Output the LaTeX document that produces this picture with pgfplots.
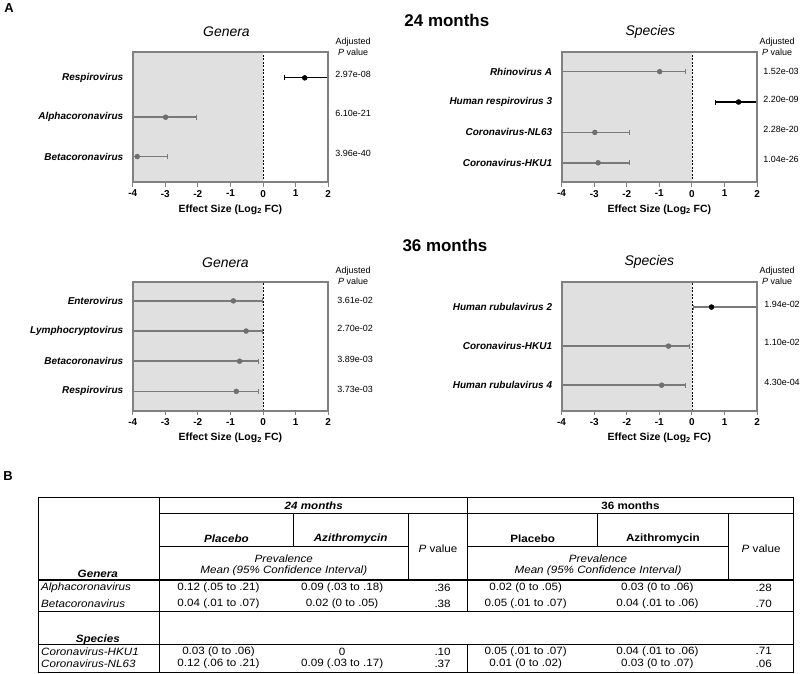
\documentclass[border=0pt]{standalone}
\usepackage{pgfplots}
\pgfplotsset{compat=1.18}
\usepackage{fontspec}
\setmainfont{Liberation Sans}
\definecolor{shade}{HTML}{E0E0E0}
\definecolor{framegray}{HTML}{808080}
\definecolor{ptgray}{HTML}{6E6E6E}
\definecolor{bargray}{HTML}{7A7A7A}
\newcommand{\fs}[1]{\fontsize{#1}{#1}\selectfont}

\pgfplotsset{
  forest/.style={
    scale only axis, width=196pt, height=131pt,
    xmin=-4, xmax=2,
    xtick={-4,-3,-2,-1,0,1,2},
    xticklabels={-4,-3,-2,-1,0,1,2},
    tick pos=left,
    tick align=outside, major tick length=4pt,
    xtick style={draw=framegray, line width=1pt},
    ytick style={draw=none},
    xticklabel style={font=\bfseries\fs{10}},
    yticklabel style={font=\bfseries\itshape\fs{10}, xshift=-2pt},
    axis line style={framegray, line width=1.4pt},
    xlabel={Effect Size (Log\textsubscript{2} FC)},
    xlabel style={font=\bfseries\fs{10.5}, at={(axis description cs:0.5,0)}, anchor=center, yshift=-27pt},
  },
  sig/.style={only marks, mark=*, mark size=2.5pt, color=black,
    error bars/.cd, x dir=both, x explicit, error mark=|,
    error bar style={line width=1.2pt, black},
    error mark options={line width=1pt, mark size=2.5pt, black}},
  ns/.style={only marks, mark=*, mark size=2.5pt, color=ptgray,
    mark options={draw=#1, fill=#1},
    error bars/.cd, x dir=both, x explicit, error mark=|,
    error bar style={line width=1.7pt, bargray},
    error mark options={line width=1.1pt, mark size=2.5pt, bargray}},
  ns/.default=ptgray,
  zeroline/.style={black, line width=0.8pt, dash pattern=on 2pt off 1.5pt},
  boxline/.style={framegray, line width=2.8pt},
}

\begin{document}
\begin{tikzpicture}
\begin{scope}[x=1pt,y=-1pt]
\path[use as bounding box] (0,0) rectangle (800,675);
\end{scope}

% ---------- 24 months, genera
\begin{axis}[forest, at={(131pt,-183pt)}, anchor=south west,
  ymin=0.34, ymax=3.66, ytick={1,2,3},
  yticklabels={Betacoronavirus,Alphacoronavirus,Respirovirus}]
\addplot[fill=shade, draw=none] coordinates {(-4,0.34) (0,0.34) (0,3.66) (-4,3.66)} -- cycle;
\addplot[zeroline] coordinates {(0,0.34) (0,3.66)};
\addplot[ns] coordinates {
  (-2.99,2) += (0.96,0) -= (1.5,0)
  (-3.86,1) += (0.92,0) -= (1.0,0)
};
\addplot[sig] coordinates {
  (1.28,3) += (1.5,0) -= (0.63,0)
};
\addplot[boxline] coordinates {(-4,0.34) (2,0.34) (2,3.66) (-4,3.66)} -- cycle;
\end{axis}

% ---------- 24 months, species
\begin{axis}[forest, at={(561pt,-183pt)}, anchor=south west,
  ymin=0.35, ymax=4.65, ytick={1,2,3,4},
  yticklabels={Coronavirus-HKU1,Coronavirus-NL63,Human respirovirus 3,Rhinovirus A}]
\addplot[fill=shade, draw=none] coordinates {(-4,0.35) (0,0.35) (0,4.65) (-4,4.65)} -- cycle;
\addplot[zeroline] coordinates {(0,0.35) (0,4.65)};
\addplot[ns] coordinates {
  (-0.99,4) += (0.79,0) -= (3.5,0)
  (-2.98,2) += (1.07,0) -= (1.5,0)
  (-2.88,1) += (0.95,0) -= (1.5,0)
};
\addplot[sig] coordinates {
  (1.43,3) += (1.0,0) -= (0.72,0)
};
\addplot[boxline] coordinates {(-4,0.35) (2,0.35) (2,4.65) (-4,4.65)} -- cycle;
\end{axis}

% ---------- 36 months, genera
\begin{axis}[forest, height=130pt, at={(131pt,-412pt)}, anchor=south west,
  ymin=0.35, ymax=4.65, ytick={1,2,3,4},
  yticklabels={Respirovirus,Betacoronavirus,Lymphocryptovirus,Enterovirus}]
\addplot[fill=shade, draw=none] coordinates {(-4,0.35) (0,0.35) (0,4.65) (-4,4.65)} -- cycle;
\addplot[zeroline] coordinates {(0,0.35) (0,4.65)};
\addplot[ns] coordinates {
  (-0.91,4) += (0.88,0) -= (3.5,0)
  (-0.52,3) += (0.51,0) -= (3.5,0)
  (-0.72,2) += (0.58,0) -= (3.5,0)
  (-0.82,1) += (0.68,0) -= (3.5,0)
};
\addplot[boxline] coordinates {(-4,0.35) (2,0.35) (2,4.65) (-4,4.65)} -- cycle;
\end{axis}

% ---------- 36 months, species
\begin{axis}[forest, height=130pt, at={(561pt,-412pt)}, anchor=south west,
  ymin=0.34, ymax=3.66, ytick={1,2,3},
  yticklabels={Human rubulavirus 4,Coronavirus-HKU1,Human rubulavirus 2}]
\addplot[fill=shade, draw=none] coordinates {(-4,0.34) (0,0.34) (0,3.66) (-4,3.66)} -- cycle;
\addplot[zeroline] coordinates {(0,0.34) (0,3.66)};
\addplot[ns] coordinates {
  (-0.72,2) += (0.65,0) -= (3.5,0)
  (-0.93,1) += (0.72,0) -= (3.5,0)
};
\addplot[ns=black] coordinates {
  (0.60,3) += (2.0,0) -= (0.56,0)
};
\addplot[boxline] coordinates {(-4,0.34) (2,0.34) (2,3.66) (-4,3.66)} -- cycle;
\end{axis}

\begin{scope}[x=1pt,y=-1pt]
% panel letters and headings
\node[font=\bfseries\fs{13}] at (7,8) {A};
\node[font=\bfseries\fs{13}] at (6,477) {B};
\node[font=\bfseries\fs{17}] at (446,20) {24 months};
\node[font=\bfseries\fs{17}] at (444,246) {36 months};
\node[font=\itshape\fs{14}] at (225,32) {Genera};
\node[font=\itshape\fs{14}] at (650,32) {Species};
\node[font=\itshape\fs{14}] at (224,263) {Genera};
\node[font=\itshape\fs{14}] at (649,263) {Species};
% adjusted p value headers
\foreach \cx/\cy in {352/42, 777/42, 352/272, 777/272}{
  \node[font=\fs{9}] at (\cx,\cy) {Adjusted};
  \node[font=\fs{9}] at (\cx,\cy+10) {\textit{P} value};
}
\tikzset{pv/.style={font=\fs{9}, anchor=west, inner sep=0pt}}
\node[pv] at (334,75) {2.97e-08};
\node[pv] at (334,114) {6.10e-21};
\node[pv] at (334,154) {3.96e-40};
\node[pv] at (763,72) {1.52e-03};
\node[pv] at (763,100) {2.20e-09};
\node[pv] at (763,130) {2.28e-20};
\node[pv] at (763,160) {1.04e-26};
\node[pv] at (336,301) {3.61e-02};
\node[pv] at (336,329) {2.70e-02};
\node[pv] at (336,360) {3.89e-03};
\node[pv] at (336,390) {3.73e-03};
\node[pv] at (764,305) {1.94e-02};
\node[pv] at (764,343) {1.10e-02};
\node[pv] at (764,383) {4.30e-04};

% ---------- table B
\begin{scope}[line width=0.8pt, black]
\draw (36,499) rectangle (793,674);
\draw (158,499) -- (158,674);
\draw (158,515) -- (793,515);
\draw (292,515) -- (292,548);
\draw (407,515) -- (407,580);
\draw (467,499) -- (467,613);
\draw (597,515) -- (597,548);
\draw (728,515) -- (728,580);
\draw (158,548) -- (407,548);
\draw (467,548) -- (728,548);
\draw[line width=2pt] (36,581) -- (793,581);
\draw (36,613) -- (793,613);
\draw (36,646) -- (793,646);
\draw (467,646) -- (467,674);
\end{scope}
\tikzset{tb/.style={font=\fs{10.6}, inner sep=0pt, xscale=1.1, transform shape}}
\node[tb, font=\bfseries\itshape\fs{10.6}] at (312.5,507) {24 months};
\node[tb, font=\bfseries\fs{10.6}] at (630,507) {36 months};
\node[tb, font=\bfseries\itshape\fs{10.6}] at (225,540) {Placebo};
\node[tb, font=\bfseries\itshape\fs{10.6}] at (349.5,540) {Azithromycin};
\node[tb, font=\bfseries\fs{10.6}] at (532,540) {Placebo};
\node[tb, font=\bfseries\fs{10.6}] at (662.5,540) {Azithromycin};
\foreach \cx in {282.5,597.5}{
  \node[tb, font=\itshape\fs{10.6}] at (\cx,560) {Prevalence};
  \node[tb, font=\itshape\fs{10.6}] at (\cx,572) {Mean (95\% Confidence Interval)};
}
\node[tb] at (437,550) {\textit{P} value};
\node[tb] at (761,550) {\textit{P} value};
\node[tb, font=\bfseries\itshape\fs{10.6}] at (96,575) {Genera};
\node[tb, font=\bfseries\itshape\fs{10.6}] at (96,641) {Species};
% data rows
\foreach \ry/\name/\pa/\aa/\pb/\pc/\ab/\pd in {
  589/Alphacoronavirus/0.12 (.05 to .21)/0.09 (.03 to .18)/.36/0.02 (0 to .05)/0.03 (0 to .06)/.28,
  605/Betacoronavirus/0.04 (.01 to .07)/0.02 (0 to .05)/.38/0.05 (.01 to .07)/0.04 (.01 to .06)/.70,
  653/Coronavirus-HKU1/0.03 (0 to .06)/0/.10/0.05 (.01 to .07)/0.04 (.01 to .06)/.71,
  665.5/Coronavirus-NL63/0.12 (.06 to .21)/0.09 (.03 to .17)/.37/0.01 (0 to .02)/0.03 (0 to .07)/.06}{
  \node[tb, font=\itshape\fs{10.6}, anchor=west] at (39,\ry) {\name};
  \node[tb] at (217,\ry) {\pa};
  \node[tb] at (341,\ry) {\aa};
  \node[tb, anchor=east] at (450,\ry) {\pb};
  \node[tb] at (525,\ry) {\pc};
  \node[tb] at (657,\ry) {\ab};
  \node[tb, anchor=east] at (772,\ry) {\pd};
}
\end{scope}
\end{tikzpicture}
\end{document}
